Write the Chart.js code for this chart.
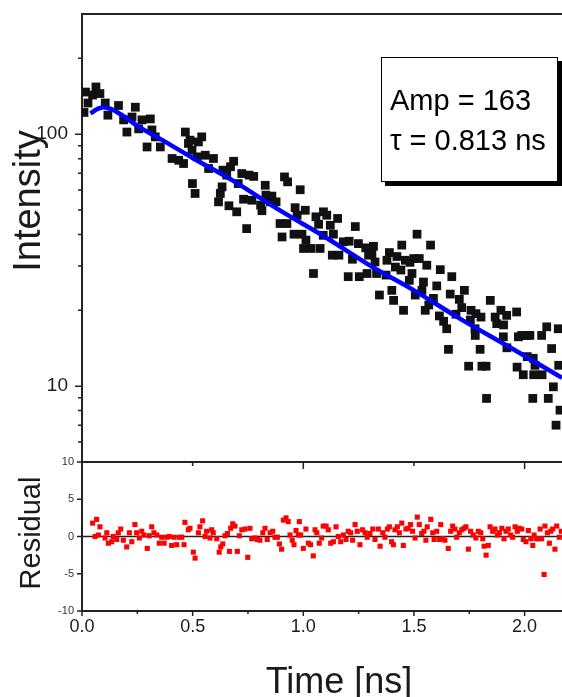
<!DOCTYPE html>
<html>
<head>
<meta charset="utf-8">
<script src="https://cdn.jsdelivr.net/npm/chart.js@4.4.1/dist/chart.umd.min.js"></script>
<style>
  html, body { margin: 0; padding: 0; background: #fff; overflow: hidden; }
  #wrap { position: relative; width: 562px; height: 697px; }
  #wrap canvas { position: absolute; left: 0; top: 0; }
</style>
</head>
<body>
<div id="wrap">
  <canvas id="residualChart" width="562" height="697"></canvas>
  <canvas id="decayChart" width="562" height="697"></canvas>
</div>
<script>
// measured decay (time in ns, counts)
const decayTime = [
  0.009, 0.016, 0.027, 0.048, 0.063, 0.081, 0.105, 0.117, 0.165, 0.188,
  0.203, 0.226, 0.241, 0.256, 0.271, 0.294, 0.309, 0.316, 0.331, 0.354,
  0.407, 0.437, 0.459, 0.467, 0.481, 0.488, 0.497, 0.499, 0.511, 0.520,
  0.526, 0.541, 0.557, 0.572, 0.594, 0.617, 0.625, 0.633, 0.637, 0.654,
  0.664, 0.671, 0.685, 0.699, 0.706, 0.722, 0.730, 0.744, 0.755, 0.768,
  0.776, 0.807, 0.813, 0.828, 0.831, 0.850, 0.858, 0.877, 0.895, 0.904,
  0.915, 0.926, 0.929, 0.958, 0.963, 0.972, 0.986, 0.994, 1.001, 1.009,
  1.012, 1.035, 1.046, 1.057, 1.069, 1.076, 1.090, 1.091, 1.106, 1.122,
  1.131, 1.136, 1.155, 1.161, 1.181, 1.203, 1.207, 1.222, 1.235, 1.249,
  1.253, 1.282, 1.288, 1.295, 1.310, 1.317, 1.324, 1.331, 1.344, 1.374,
  1.378, 1.389, 1.400, 1.408, 1.416, 1.423, 1.441, 1.445, 1.453, 1.461,
  1.479, 1.482, 1.491, 1.499, 1.506, 1.514, 1.524, 1.536, 1.543, 1.551,
  1.558, 1.567, 1.575, 1.588, 1.603, 1.615, 1.619, 1.634, 1.648, 1.656,
  1.664, 1.671, 1.690, 1.705, 1.716, 1.728, 1.747, 1.755, 1.758, 1.776,
  1.777, 1.780, 1.799, 1.803, 1.807, 1.826, 1.828, 1.845, 1.867, 1.874,
  1.893, 1.904, 1.905, 1.919, 1.920, 1.964, 1.966, 1.972, 1.987, 1.994,
  2.010, 2.012, 2.024, 2.037, 2.039, 2.041, 2.047, 2.077, 2.079, 2.100,
  2.107, 2.122, 2.130, 2.142, 2.152, 2.154, 2.160
];
const decayCounts = [
  122, 147, 133, 143, 154, 145, 133, 119, 130, 114,
  102, 117, 128, 105, 114, 89, 115, 104, 97.6, 89,
  80.1, 78.8, 76.5, 102, 91.9, 94.7, 86.4, 63.7, 58.2, 81.3,
  93.2, 97.6, 82.5, 73.1, 80.1, 53.9, 58.2, 61.8, 72.0, 68.8,
  52.0, 74.3, 78.1, 49.2, 63.7, 69.8, 55.2, 42.2, 68.8, 54.7,
  68.0, 52.3, 49.7, 62.7, 57.3, 53.9, 56.8, 53.9, 44.2, 39.1,
  67.7, 44.2, 64.7, 40.1, 51.1, 47.7, 60.2, 40.1, 35.2, 49.9,
  38.0, 35.2, 28.0, 47.0, 43.9, 35.2, 39.7, 49.2, 47.7, 43.5,
  33.1, 40.1, 46.3, 33.1, 37.4, 27.2, 37.6, 31.9, 43.0, 36.8,
  27.2, 35.4, 28.0, 33.1, 33.6, 35.9, 31.1, 28.0, 23.0, 27.6,
  31.6, 33.9, 24.0, 21.9, 29.7, 32.7, 28.9, 36.3, 20.0, 31.6,
  26.3, 31.0, 28.0, 32.1, 23.0, 40.1, 32.1, 24.0, 25.9, 20.0,
  30.2, 21.0, 36.3, 22.3, 25.0, 19.0, 29.0, 18.1, 16.9, 14.0,
  23.2, 27.2, 19.3, 22.1, 20.5, 24.0, 12.0, 18.3, 20.0, 16.9,
  15.9, 19.4, 14.0, 18.8, 12.0, 12.0, 8.94, 21.9, 18.8, 17.7,
  20.0, 15.7, 17.5, 19.1, 14.2, 19.7, 11.9, 15.7, 15.9, 11.1,
  15.9, 13.1, 15.9, 8.94, 12.9, 11.1, 12.1, 15.9, 11.1, 17.2,
  8.94, 14.1, 9.94, 7.0, 16.9, 12.1, 8.03
];

// fitted curve
const fitTime = [0.038, 0.07, 0.098, 0.13, 0.181, 0.25, 0.361, 0.5, 0.678, 0.9, 1.1, 1.31, 1.5, 1.7, 1.943, 2.169];
const fitCounts = [121, 126, 128, 126, 119, 108, 95, 80.5, 65.7, 49.5, 39, 29.8, 24, 18.7, 14.1, 10.8];
const fitAmp = 163;
const fitTau = 0.813;

// weighted residuals
const residualTime = [
  0.048, 0.059, 0.066, 0.074, 0.081, 0.104, 0.112, 0.119, 0.134, 0.141,
  0.157, 0.164, 0.175, 0.187, 0.202, 0.214, 0.225, 0.239, 0.247, 0.259,
  0.270, 0.280, 0.295, 0.304, 0.315, 0.325, 0.338, 0.349, 0.360, 0.371,
  0.383, 0.394, 0.405, 0.416, 0.428, 0.440, 0.451, 0.461, 0.465, 0.480,
  0.488, 0.503, 0.511, 0.526, 0.533, 0.545, 0.556, 0.563, 0.578, 0.586,
  0.593, 0.609, 0.620, 0.627, 0.636, 0.646, 0.657, 0.666, 0.672, 0.681,
  0.691, 0.702, 0.711, 0.722, 0.737, 0.749, 0.759, 0.767, 0.782, 0.792,
  0.804, 0.817, 0.827, 0.837, 0.850, 0.862, 0.872, 0.883, 0.892, 0.902,
  0.910, 0.922, 0.932, 0.940, 0.950, 0.958, 0.967, 0.977, 0.982, 0.988,
  1.000, 1.012, 1.023, 1.033, 1.045, 1.053, 1.061, 1.072, 1.083, 1.090,
  1.103, 1.113, 1.124, 1.136, 1.148, 1.158, 1.169, 1.181, 1.193, 1.203,
  1.214, 1.223, 1.234, 1.244, 1.256, 1.268, 1.279, 1.289, 1.301, 1.314,
  1.324, 1.339, 1.347, 1.359, 1.369, 1.380, 1.389, 1.399, 1.407, 1.414,
  1.425, 1.434, 1.445, 1.452, 1.464, 1.474, 1.485, 1.494, 1.505, 1.515,
  1.524, 1.535, 1.545, 1.554, 1.560, 1.576, 1.585, 1.591, 1.603, 1.615,
  1.621, 1.630, 1.640, 1.655, 1.666, 1.675, 1.685, 1.693, 1.705, 1.716,
  1.726, 1.735, 1.746, 1.756, 1.768, 1.780, 1.791, 1.802, 1.811, 1.817,
  1.826, 1.836, 1.844, 1.856, 1.866, 1.877, 1.886, 1.897, 1.907, 1.916,
  1.926, 1.937, 1.946, 1.957, 1.967, 1.976, 1.987, 1.994, 2.006, 2.017,
  2.028, 2.037, 2.043, 2.052, 2.062, 2.070, 2.077, 2.088, 2.092, 2.103,
  2.112, 2.118, 2.127, 2.137, 2.145, 2.157, 2.166
];
const residualValue = [
  1.8, 0.0, 2.3, 0.2, 1.3, -0.2, 0.5, -0.9, -0.7, 0.0,
  -0.4, 0.5, 1.0, -0.5, -1.4, 0.5, -0.7, 1.6, 0.5, -0.2,
  0.7, 0.2, -1.6, 0.1, 1.3, 0.5, 0.2, -0.9, -0.1, -0.9,
  -0.1, 0.0, -1.2, -0.1, -1.1, -0.1, -0.1, -1.1, 1.9, 0.9,
  1.1, -2.1, -2.9, 0.5, 1.3, 2.1, 0.0, 0.7, -0.2, 0.9,
  0.5, -0.3, -2.1, -1.4, -1.0, 0.1, 0.4, -2.0, 1.1, 1.7,
  1.4, -2.0, 0.1, 0.9, 1.0, -2.8, 1.1, -0.3, -0.2, -0.4,
  -0.5, 0.5, 1.1, -0.4, 0.5, 0.7, -0.1, -0.1, -1.0, -1.7,
  2.2, 2.5, 2.0, 0.2, -0.5, -1.1, 0.8, 0.2, 2.0, 0.2,
  -1.6, 1.0, -0.9, -1.1, -2.6, 0.9, 0.5, -0.9, -0.2, 1.4,
  1.4, 0.9, -0.9, -0.7, 1.3, 0.0, -0.7, 0.2, -0.4, 0.7,
  0.5, -0.5, 1.6, 0.7, -1.1, 0.9, 0.5, -0.1, 0.4, 1.0,
  -0.4, 1.0, -1.3, 0.5, -0.1, 1.0, 1.3, -0.7, -1.1, 0.9,
  1.3, 0.5, 1.8, -1.2, 1.0, 1.1, 1.6, 0.7, -0.2, 2.6,
  1.6, 0.4, 0.7, -0.5, 1.3, 2.3, 0.5, -0.4, 0.7, -0.4,
  1.6, -0.3, -0.5, -1.6, 0.7, 1.4, 1.0, -0.1, 0.5, 0.9,
  1.1, 1.3, -1.7, 0.7, 0.2, -0.2, 0.7, 0.5, -0.3, -1.3,
  -2.5, -1.2, 1.3, 0.7, 1.0, 0.2, 0.5, 1.1, -0.3, 0.7,
  1.0, 0.2, -0.1, 1.3, 0.7, 1.1, 1.0, -0.4, -0.7, 0.8,
  -0.3, -1.2, 0.2, -0.3, -0.3, 1.0, -0.3, -5.1, 1.4, 0.5,
  -0.9, 0.7, 1.0, -1.7, 1.4, -0.1, 0.7
];

// axes
const timeMin = 0, timeMax = 2.169;
const timeLabels = [0, 0.5, 1, 1.5, 2];
const timeMinor = [0.25, 0.75, 1.25, 1.75];
const countMin = 5, countMax = 300;
const countLabels = [10, 100];
const countMinor = [6, 7, 8, 9, 20, 30, 40, 50, 60, 70, 80, 90, 200];
const residualMin = -10, residualMax = 10;
const residualLabels = [-10, -5, 0, 5, 10];

const FONT = '"Liberation Sans", Arial, Helvetica, sans-serif';
const AXIS = '#222';
const TEXT = '#1a1a1a';

function line(ctx, x1, y1, x2, y2) {
  ctx.moveTo(x1, y1);
  ctx.lineTo(x2, y2);
}

const decayFrame = {
  id: 'decayFrame',
  beforeDatasetsDraw(chart) {
    const { ctx, chartArea: a, scales: { y } } = chart;
    ctx.save();
    ctx.strokeStyle = AXIS;
    ctx.lineWidth = 2;
    ctx.beginPath();
    ctx.moveTo(a.left, a.bottom);
    ctx.lineTo(a.left, a.top);
    ctx.lineTo(a.right, a.top);
    ctx.stroke();
    ctx.lineWidth = 1.5;
    ctx.beginPath();
    countLabels.forEach(v => { const p = y.getPixelForValue(v); line(ctx, a.left - 7, p, a.left, p); });
    countMinor.forEach(v => { const p = y.getPixelForValue(v); line(ctx, a.left - 4, p, a.left, p); });
    ctx.stroke();
    ctx.restore();
  },
  afterDraw(chart) {
    const { ctx, chartArea: a } = chart;
    ctx.save();
    // y title
    ctx.fillStyle = TEXT;
    ctx.font = `38px ${FONT}`;
    ctx.textAlign = 'center';
    ctx.textBaseline = 'alphabetic';
    ctx.translate(40, 201);
    ctx.rotate(-Math.PI / 2);
    ctx.fillText('Intensity', 0, 0);
    ctx.setTransform(1, 0, 0, 1, 0, 0);
    // fit result box
    const bx = a.right - 181, by = a.top + 43, bw = 177, bh = 125;
    ctx.fillStyle = '#000';
    ctx.fillRect(bx + 4, by + 4, bw, bh);
    ctx.fillStyle = '#fff';
    ctx.fillRect(bx, by, bw, bh);
    ctx.strokeStyle = '#000';
    ctx.lineWidth = 1;
    ctx.strokeRect(bx + 0.5, by + 0.5, bw - 1, bh - 1);
    ctx.fillStyle = '#000';
    ctx.font = `29px ${FONT}`;
    ctx.textAlign = 'left';
    ctx.fillText(`Amp = ${fitAmp}`, bx + 9, by + 53);
    ctx.fillText(`\u03C4 = ${fitTau} ns`, bx + 9, by + 93);
    ctx.restore();
  }
};

const residualFrame = {
  id: 'residualFrame',
  beforeDatasetsDraw(chart) {
    const { ctx, chartArea: a, scales: { x, y } } = chart;
    ctx.save();
    ctx.strokeStyle = AXIS;
    ctx.lineWidth = 2;
    ctx.beginPath();
    line(ctx, a.left, a.top, a.right, a.top);
    line(ctx, a.left, a.bottom, a.right, a.bottom);
    line(ctx, a.left, a.top, a.left, a.bottom + 1);
    ctx.stroke();
    ctx.lineWidth = 1.5;
    ctx.beginPath();
    const zero = y.getPixelForValue(0);
    line(ctx, a.left, zero, a.right, zero);
    residualLabels.forEach(v => { const p = y.getPixelForValue(v); line(ctx, a.left - 5, p, a.left, p); });
    timeLabels.forEach(v => {
      const p = x.getPixelForValue(v);
      line(ctx, p, a.bottom, p, a.bottom + 5);
      if (v > 0) line(ctx, p, a.top, p, a.top + (Number.isInteger(v) ? 7 : 4));
    });
    timeMinor.forEach(v => { const p = x.getPixelForValue(v); line(ctx, p, a.bottom, p, a.bottom + 3); });
    ctx.stroke();
    ctx.restore();
  },
  afterDraw(chart) {
    const { ctx } = chart;
    ctx.save();
    ctx.fillStyle = TEXT;
    ctx.textAlign = 'center';
    ctx.textBaseline = 'alphabetic';
    ctx.font = `36px ${FONT}`;
    ctx.fillText('Time [ns]', 339, 693);
    ctx.font = `29px ${FONT}`;
    ctx.translate(40, 533);
    ctx.rotate(-Math.PI / 2);
    ctx.fillText('Residual', 0, 0);
    ctx.restore();
  }
};

const common = {
  responsive: false,
  animation: false,
  events: [],
  plugins: { legend: { display: false }, tooltip: { enabled: false } }
};

new Chart(document.getElementById('residualChart'), {
  type: 'scatter',
  data: {
    datasets: [{
      label: 'Residual',
      data: residualTime.map((t, i) => ({ x: t, y: residualValue[i] })),
      pointStyle: 'rect',
      pointRadius: 3.6,
      pointBorderWidth: 0,
      backgroundColor: '#ff0000',
      borderColor: '#ff0000'
    }]
  },
  options: {
    ...common,
    layout: { autoPadding: false, padding: { top: 462, left: 0, right: 0, bottom: 0 } },
    scales: {
      x: {
        type: 'linear', min: timeMin, max: timeMax,
        grid: { display: false, drawTicks: false }, border: { display: false },
        afterBuildTicks: s => { s.ticks = timeLabels.map(v => ({ value: v })); },
        afterFit: s => { s.height = 86; s.paddingLeft = 0; s.paddingRight = 0; },
        ticks: { font: { family: FONT, size: 18 }, color: TEXT, padding: 5, maxRotation: 0, callback: v => Number(v).toFixed(1) }
      },
      y: {
        type: 'linear', min: residualMin, max: residualMax,
        grid: { display: false, drawTicks: false }, border: { display: false },
        afterBuildTicks: s => { s.ticks = residualLabels.map(v => ({ value: v })); },
        afterFit: s => { s.width = 82; s.paddingTop = 0; s.paddingBottom = 0; },
        ticks: { font: { family: FONT, size: 11 }, color: '#333', padding: 8, callback: v => String(v) }
      }
    }
  },
  plugins: [residualFrame]
});

new Chart(document.getElementById('decayChart'), {
  type: 'scatter',
  data: {
    datasets: [{
      label: 'Fit',
      data: fitTime.map((t, i) => ({ x: t, y: fitCounts[i] })),
      showLine: true,
      borderColor: '#0000ff',
      borderWidth: 4.5,
      pointRadius: 0,
      cubicInterpolationMode: 'monotone',
      fill: false
    }, {
      label: 'Intensity',
      data: decayTime.map((t, i) => ({ x: t, y: decayCounts[i] })),
      pointStyle: 'rect',
      pointRadius: 6.2,
      pointBorderWidth: 0,
      backgroundColor: '#111',
      borderColor: '#111'
    }]
  },
  options: {
    ...common,
    layout: { autoPadding: false, padding: { top: 14, left: 0, right: 0, bottom: 697 - 462 } },
    scales: {
      x: { type: 'linear', min: timeMin, max: timeMax, display: false },
      y: {
        type: 'logarithmic', min: countMin, max: countMax,
        grid: { display: false, drawTicks: false }, border: { display: false },
        afterBuildTicks: s => { s.ticks = countLabels.map(v => ({ value: v })); },
        afterFit: s => { s.width = 82; s.paddingTop = 0; s.paddingBottom = 0; },
        ticks: { font: { family: FONT, size: 19 }, color: TEXT, padding: 14, callback: v => String(v) }
      }
    }
  },
  plugins: [decayFrame]
});
</script>
</body>
</html>
